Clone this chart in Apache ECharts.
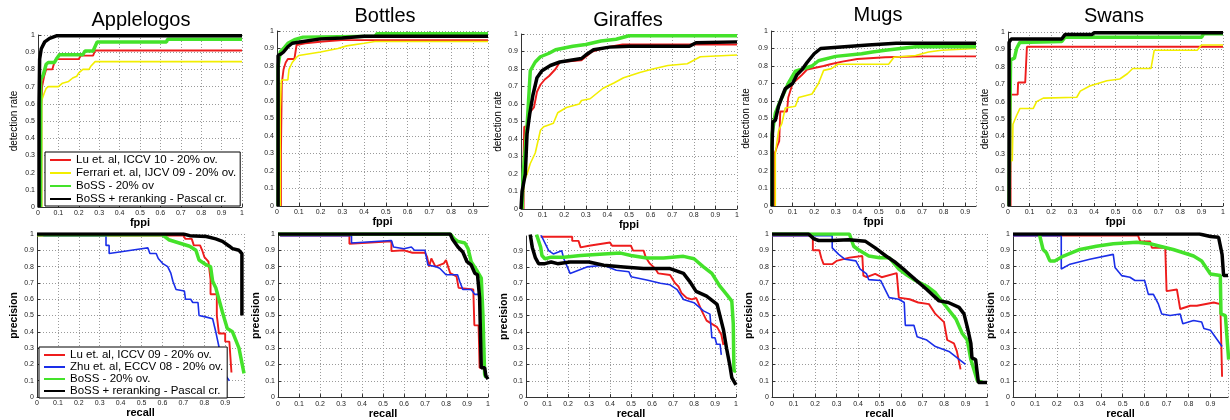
<!DOCTYPE html>
<html>
<head>
<meta charset="utf-8">
<script src="https://cdn.jsdelivr.net/npm/echarts@6/dist/echarts.min.js"></script>
<style>
  html, body { margin: 0; padding: 0; background: #fff; }
  #chart { width: 1230px; height: 420px; }
</style>
</head>
<body>
<div id="chart"></div>
<script>
// Panel titles and legend entries
const categories = ["Applelogos", "Bottles", "Giraffes", "Mugs", "Swans"]
const topNames = ["Lu et. al, ICCV 10 - 20% ov.", "Ferrari et. al, IJCV 09 - 20% ov.", "BoSS - 20% ov", "BoSS + reranking - Pascal cr."]
const bottomNames = ["Lu et. al, ICCV 09 - 20% ov.", "Zhu et. al, ECCV 08 - 20% ov.", "BoSS - 20% ov.", "BoSS + reranking - Pascal cr."]
const tickStep = 0.1

// ---- detection rate vs fppi (top row), points [fppi, detection rate] ----
const appleFppiLu = [[0.016,0],[0.016,0.58],[0.02,0.7],[0.03,0.76],[0.04,0.8],[0.07,0.8],[0.08,0.84],[0.09,0.86],[0.2,0.86],[0.21,0.88],[0.27,0.88],[0.28,0.91],[1,0.91]]
const appleFppiFerrari = [[0.018,0],[0.018,0.62],[0.03,0.66],[0.04,0.69],[0.05,0.7],[0.1,0.7],[0.12,0.72],[0.15,0.73],[0.17,0.75],[0.19,0.76],[0.2,0.78],[0.22,0.8],[0.25,0.8],[0.26,0.82],[0.28,0.845],[1,0.845]]
const appleFppiBoss = [[0.012,0],[0.013,0.74],[0.025,0.765],[0.04,0.83],[0.05,0.84],[0.08,0.84],[0.09,0.86],[0.105,0.885],[0.22,0.885],[0.23,0.907],[0.27,0.907],[0.29,0.96],[0.63,0.96],[0.635,0.975],[1,0.975]]
const appleFppiRerank = [[0.005,0],[0.005,0.6],[0.008,0.86],[0.016,0.92],[0.033,0.96],[0.057,0.98],[0.09,0.995],[1,0.995]]

const bottleFppiLu = [[0.018,0],[0.018,0.3],[0.022,0.7],[0.03,0.78],[0.04,0.82],[0.05,0.84],[0.08,0.84],[0.09,0.92],[0.13,0.93],[0.21,0.94],[0.3,0.948],[0.97,0.948]]
const bottleFppiFerrari = [[0.015,0],[0.015,0.55],[0.02,0.72],[0.05,0.72],[0.055,0.78],[0.07,0.82],[0.09,0.85],[0.1,0.86],[0.15,0.87],[0.2,0.88],[0.28,0.9],[0.32,0.915],[0.4,0.93],[0.45,0.94],[0.97,0.94]]
const bottleFppiBoss = [[0.005,0],[0.005,0.8],[0.015,0.88],[0.03,0.9],[0.05,0.93],[0.08,0.95],[0.12,0.965],[0.45,0.97],[0.46,0.985],[0.97,0.985]]
const bottleFppiRerank = [[0.005,0],[0.005,0.86],[0.02,0.87],[0.03,0.88],[0.05,0.91],[0.07,0.93],[0.12,0.94],[0.2,0.955],[0.3,0.96],[0.4,0.97],[0.97,0.97]]

const giraffeFppiLu = [[0.012,0],[0.012,0.3],[0.015,0.47],[0.025,0.47],[0.04,0.55],[0.06,0.58],[0.074,0.67],[0.09,0.71],[0.11,0.74],[0.13,0.76],[0.16,0.8],[0.18,0.84],[0.28,0.85],[0.33,0.9],[0.4,0.925],[0.47,0.94],[1,0.94]]
const giraffeFppiFerrari = [[0.008,0],[0.012,0.15],[0.028,0.2],[0.043,0.26],[0.066,0.32],[0.09,0.45],[0.105,0.47],[0.15,0.49],[0.17,0.55],[0.21,0.58],[0.27,0.6],[0.28,0.62],[0.32,0.63],[0.38,0.69],[0.43,0.72],[0.475,0.75],[0.55,0.78],[0.61,0.8],[0.68,0.82],[0.77,0.83],[0.8,0.85],[0.83,0.87],[1,0.88]]
const giraffeFppiBoss = [[0.005,0],[0.01,0.2],[0.028,0.47],[0.043,0.79],[0.066,0.84],[0.09,0.87],[0.13,0.89],[0.16,0.91],[0.24,0.93],[0.3,0.94],[0.37,0.96],[0.44,0.97],[0.5,0.99],[1,0.99]]
const giraffeFppiRerank = [[0,0],[0.005,0.1],[0.02,0.2],[0.028,0.43],[0.04,0.54],[0.055,0.65],[0.074,0.75],[0.097,0.79],[0.136,0.82],[0.18,0.84],[0.28,0.86],[0.3,0.88],[0.336,0.91],[0.41,0.925],[0.5,0.93],[0.78,0.93],[0.81,0.95],[1,0.955]]

const mugFppiLu = [[0.017,0],[0.017,0.3],[0.028,0.34],[0.038,0.37],[0.043,0.54],[0.074,0.54],[0.08,0.62],[0.1,0.7],[0.144,0.75],[0.167,0.78],[0.244,0.8],[0.275,0.81],[0.33,0.825],[0.4,0.84],[0.53,0.85],[0.7,0.855],[0.95,0.855]]
const mugFppiFerrari = [[0.02,0],[0.02,0.3],[0.035,0.43],[0.05,0.47],[0.066,0.56],[0.113,0.57],[0.128,0.62],[0.19,0.64],[0.22,0.7],[0.244,0.775],[0.28,0.785],[0.31,0.81],[0.545,0.81],[0.57,0.85],[0.67,0.86],[0.73,0.88],[0.79,0.89],[0.95,0.9]]
const mugFppiBoss = [[0.005,0],[0.005,0.41],[0.02,0.53],[0.043,0.6],[0.08,0.7],[0.113,0.77],[0.19,0.8],[0.22,0.83],[0.3,0.855],[0.42,0.87],[0.47,0.88],[0.53,0.89],[0.67,0.91],[0.95,0.91]]
const mugFppiRerank = [[0.005,0],[0.005,0.34],[0.008,0.48],[0.02,0.49],[0.035,0.57],[0.05,0.62],[0.066,0.67],[0.1,0.7],[0.12,0.75],[0.144,0.78],[0.167,0.82],[0.2,0.87],[0.23,0.9],[0.34,0.91],[0.45,0.92],[0.58,0.93],[0.95,0.93]]

const swanFppiLu = [[0.012,0],[0.012,0.64],[0.045,0.64],[0.047,0.71],[0.08,0.71],[0.088,0.915],[1,0.915]]
const swanFppiFerrari = [[0.01,0],[0.01,0.26],[0.02,0.26],[0.023,0.47],[0.04,0.52],[0.055,0.56],[0.117,0.56],[0.133,0.6],[0.164,0.62],[0.32,0.625],[0.336,0.66],[0.38,0.69],[0.46,0.72],[0.52,0.73],[0.555,0.76],[0.58,0.79],[0.665,0.79],[0.68,0.895],[0.88,0.895],[0.9,0.925],[1,0.925]]
const swanFppiBoss = [[0.005,0],[0.008,0.43],[0.012,0.84],[0.03,0.85],[0.04,0.905],[0.055,0.94],[0.25,0.945],[0.265,0.97],[0.9,0.97],[0.91,0.99],[1,0.99]]
const swanFppiRerank = [[0.005,0],[0.005,0.94],[0.015,0.96],[0.25,0.96],[0.265,0.985],[0.39,0.985],[0.4,0.995],[1,0.995]]

// ---- precision vs recall (bottom row), points [recall, precision] ----
const applePrLu = [[0,0.99],[0.7,0.99],[0.71,0.97],[0.74,0.97],[0.75,0.93],[0.78,0.93],[0.79,0.9],[0.8,0.86],[0.82,0.83],[0.83,0.72],[0.83,0.63],[0.86,0.63],[0.86,0.5],[0.87,0.39],[0.9,0.39],[0.9,0.34],[0.92,0.34],[0.93,0.15]]
const applePrZhu = [[0.03,0.99],[0.33,0.99],[0.33,0.93],[0.345,0.93],[0.345,0.88],[0.5,0.91],[0.53,0.915],[0.54,0.88],[0.57,0.88],[0.58,0.85],[0.6,0.82],[0.625,0.8],[0.64,0.76],[0.65,0.71],[0.665,0.66],[0.705,0.65],[0.71,0.6],[0.735,0.6],[0.745,0.58],[0.77,0.58],[0.775,0.5],[0.81,0.49],[0.84,0.48],[0.855,0.4],[0.87,0.31],[0.895,0.145],[0.92,0.1]]
const applePrBoss = [[0,0.995],[0.6,0.995],[0.63,0.965],[0.68,0.945],[0.73,0.925],[0.76,0.9],[0.775,0.84],[0.81,0.81],[0.83,0.8],[0.84,0.71],[0.855,0.67],[0.87,0.6],[0.887,0.52],[0.91,0.42],[0.935,0.4],[0.966,0.3],[0.99,0.145]]
const applePrRerank = [[0,1],[0.7,1],[0.73,0.99],[0.81,0.985],[0.855,0.97],[0.887,0.955],[0.92,0.925],[0.935,0.91],[0.966,0.9],[0.98,0.88],[0.98,0.5]]

const bottlePrLu = [[0.01,0.99],[0.34,0.99],[0.34,0.94],[0.48,0.95],[0.54,0.955],[0.54,0.895],[0.6,0.9],[0.64,0.885],[0.7,0.885],[0.71,0.86],[0.72,0.8],[0.73,0.85],[0.75,0.8],[0.79,0.82],[0.8,0.84],[0.82,0.76],[0.85,0.74],[0.86,0.67],[0.93,0.66],[0.935,0.44],[0.955,0.44],[0.96,0.18],[0.975,0.18]]
const bottlePrZhu = [[0.01,0.99],[0.35,0.99],[0.35,0.945],[0.54,0.96],[0.55,0.92],[0.6,0.91],[0.635,0.92],[0.65,0.9],[0.7,0.9],[0.714,0.81],[0.75,0.8],[0.77,0.79],[0.8,0.75],[0.855,0.75],[0.865,0.71],[0.88,0.66],[0.92,0.66],[0.937,0.63],[0.96,0.63],[0.965,0.5]]
const bottlePrBoss = [[0,1],[0.82,1],[0.84,0.97],[0.857,0.955],[0.89,0.945],[0.905,0.91],[0.92,0.83],[0.95,0.77],[0.968,0.73],[0.976,0.5],[0.984,0.14],[0.99,0.12]]
const bottlePrRerank = [[0,1],[0.82,1],[0.83,0.97],[0.857,0.92],[0.88,0.89],[0.9,0.83],[0.92,0.81],[0.937,0.76],[0.95,0.75],[0.96,0.61],[0.968,0.18],[0.984,0.18],[0.99,0.13],[1,0.11]]

const giraffePrLu = [[0.07,0.985],[0.22,0.985],[0.22,0.96],[0.25,0.96],[0.26,0.92],[0.3,0.93],[0.4,0.95],[0.41,0.93],[0.5,0.93],[0.51,0.9],[0.56,0.9],[0.57,0.86],[0.59,0.82],[0.615,0.79],[0.63,0.76],[0.686,0.75],[0.71,0.7],[0.726,0.68],[0.74,0.64],[0.765,0.61],[0.79,0.6],[0.81,0.61],[0.82,0.58],[0.837,0.53],[0.86,0.47],[0.885,0.45],[0.91,0.43],[0.93,0.385],[0.94,0.32]]
const giraffePrZhu = [[0.07,1],[0.108,0.9],[0.13,0.88],[0.17,0.9],[0.18,0.85],[0.21,0.76],[0.29,0.8],[0.37,0.81],[0.43,0.78],[0.49,0.77],[0.5,0.74],[0.575,0.72],[0.64,0.7],[0.686,0.69],[0.72,0.66],[0.75,0.6],[0.8,0.58],[0.845,0.53],[0.876,0.51],[0.885,0.365],[0.9,0.365],[0.908,0.325],[0.924,0.325],[0.93,0.26]]
const giraffePrBoss = [[0.05,1],[0.07,0.92],[0.076,0.87],[0.09,0.85],[0.12,0.86],[0.18,0.86],[0.26,0.87],[0.37,0.88],[0.45,0.885],[0.5,0.87],[0.575,0.855],[0.655,0.855],[0.75,0.865],[0.8,0.85],[0.845,0.8],[0.885,0.76],[0.924,0.68],[0.956,0.63],[0.98,0.59],[0.987,0.45],[0.99,0.16],[1,0.16]]
const giraffePrRerank = [[0.02,1],[0.03,0.92],[0.045,0.855],[0.06,0.82],[0.09,0.82],[0.12,0.83],[0.15,0.82],[0.21,0.83],[0.3,0.83],[0.37,0.81],[0.465,0.8],[0.56,0.79],[0.686,0.79],[0.75,0.76],[0.78,0.71],[0.81,0.65],[0.86,0.62],[0.91,0.57],[0.94,0.415],[0.955,0.3],[0.97,0.2],[0.98,0.12],[1,0.075]]

const mugPrLu = [[0,0.99],[0.19,0.99],[0.19,0.9],[0.22,0.9],[0.23,0.85],[0.24,0.815],[0.28,0.815],[0.3,0.835],[0.36,0.855],[0.42,0.865],[0.425,0.745],[0.44,0.735],[0.48,0.755],[0.51,0.735],[0.58,0.76],[0.59,0.61],[0.64,0.6],[0.68,0.58],[0.73,0.57],[0.76,0.51],[0.8,0.46],[0.815,0.35],[0.846,0.33],[0.86,0.28],[0.877,0.17]]
const mugPrZhu = [[0,0.99],[0.28,0.99],[0.28,0.915],[0.31,0.875],[0.34,0.845],[0.39,0.835],[0.41,0.785],[0.44,0.755],[0.45,0.72],[0.505,0.715],[0.545,0.61],[0.59,0.6],[0.615,0.58],[0.62,0.44],[0.66,0.44],[0.675,0.37],[0.72,0.35],[0.76,0.31],[0.823,0.28],[0.9,0.2]]
const mugPrBoss = [[0,1],[0.36,1],[0.38,0.925],[0.4,0.905],[0.45,0.865],[0.5,0.855],[0.545,0.855],[0.59,0.785],[0.62,0.755],[0.667,0.715],[0.72,0.68],[0.76,0.64],[0.807,0.56],[0.855,0.48],[0.885,0.39],[0.908,0.35],[0.925,0.23],[0.955,0.1],[0.98,0.09]]
const mugPrRerank = [[0,1],[0.17,1],[0.195,0.97],[0.217,0.96],[0.28,0.96],[0.357,0.965],[0.435,0.955],[0.48,0.915],[0.53,0.865],[0.575,0.825],[0.62,0.775],[0.667,0.72],[0.72,0.66],[0.777,0.59],[0.82,0.58],[0.87,0.55],[0.893,0.51],[0.91,0.42],[0.925,0.33],[0.93,0.24],[0.947,0.23],[0.96,0.09],[1,0.09]]

const swanPrLu = [[0,0.99],[0.57,0.99],[0.58,0.955],[0.625,0.955],[0.633,0.915],[0.694,0.915],[0.7,0.65],[0.747,0.66],[0.762,0.54],[0.808,0.56],[0.838,0.56],[0.915,0.58],[0.945,0.57],[0.953,0.125]]
const swanPrZhu = [[0,0.99],[0.22,0.99],[0.22,0.785],[0.26,0.815],[0.35,0.845],[0.457,0.875],[0.465,0.795],[0.495,0.745],[0.533,0.735],[0.556,0.715],[0.6,0.715],[0.617,0.63],[0.64,0.63],[0.663,0.57],[0.678,0.51],[0.716,0.5],[0.762,0.51],[0.774,0.45],[0.823,0.47],[0.86,0.46],[0.87,0.42],[0.9,0.41],[0.953,0.31]]
const swanPrBoss = [[0.12,1],[0.137,0.905],[0.152,0.885],[0.168,0.835],[0.19,0.835],[0.23,0.865],[0.305,0.905],[0.38,0.925],[0.457,0.94],[0.564,0.95],[0.625,0.94],[0.67,0.925],[0.73,0.905],[0.777,0.885],[0.823,0.865],[0.86,0.835],[0.9,0.755],[0.945,0.745],[0.948,0.51],[0.968,0.5],[0.983,0.23]]
const swanPrRerank = [[0,1],[0.85,1],[0.9,0.985],[0.937,0.98],[0.953,0.875],[0.96,0.745],[0.98,0.745]]

// colours / widths per row (legend order)
const topColors = ["#ee1c1c", "#f2ee00", "#44e22a", "#000000"]
const bottomColors = ["#ee1c1c", "#1a2ee8", "#44e22a", "#000000"]
const lineWidths = [1.9, 1.6, 3.5, 3.5]

// layout of each subplot: grid box [left, top, width, height]
const panels = [
  { box: [38, 35, 204, 172], xMax: 1, yMax: 1, xName: "fppi", yName: "detection rate", yGap: 19, lines: [appleFppiLu, appleFppiFerrari, appleFppiBoss, appleFppiRerank], top: true },
  { box: [277, 31, 211, 175], xMax: 0.97, yMax: 1, xName: "fppi", yName: "", yGap: 18, lines: [bottleFppiLu, bottleFppiFerrari, bottleFppiBoss, bottleFppiRerank], top: true },
  { box: [521, 34, 216, 175], xMax: 1, yMax: 1, xName: "fppi", yName: "detection rate", yGap: 18, lines: [giraffeFppiLu, giraffeFppiFerrari, giraffeFppiBoss, giraffeFppiRerank], top: true },
  { box: [771, 31, 205, 175], xMax: 0.95, yMax: 1, xName: "fppi", yName: "detection rate", yGap: 20, lines: [mugFppiLu, mugFppiFerrari, mugFppiBoss, mugFppiRerank], top: true },
  { box: [1008, 32, 215, 174], xMax: 1, yMax: 1, xName: "fppi", yName: "detection rate", yGap: 18, lines: [swanFppiLu, swanFppiFerrari, swanFppiBoss, swanFppiRerank], top: true },
  { box: [37, 234, 207, 163], xMax: 0.99, yMax: 1, xName: "recall", yName: "precision", yGap: 17, lines: [applePrLu, applePrZhu, applePrBoss, applePrRerank], top: false },
  { box: [278, 234, 210, 164], xMax: 1, yMax: 1, xName: "recall", yName: "precision", yGap: 15, lines: [bottlePrLu, bottlePrZhu, bottlePrBoss, bottlePrRerank], top: false },
  { box: [526, 236, 210, 162], xMax: 1, yMax: 0.99, xName: "recall", yName: "precision", yGap: 16, lines: [giraffePrLu, giraffePrZhu, giraffePrBoss, giraffePrRerank], top: false },
  { box: [772, 234, 215, 165], xMax: 1, yMax: 1, xName: "recall", yName: "precision", yGap: 17, lines: [mugPrLu, mugPrZhu, mugPrBoss, mugPrRerank], top: false },
  { box: [1013, 234, 215, 165], xMax: 0.98, yMax: 1, xName: "recall", yName: "precision", yGap: 15, lines: [swanPrLu, swanPrZhu, swanPrBoss, swanPrRerank], top: false },
]

// title centres
const titlePos = [[141, 20], [385, 16], [628, 20], [878, 15], [1114, 16]]

const chart = echarts.init(document.getElementById("chart"), null, { renderer: "canvas" })

const axisLine = { show: true, onZero: false, lineStyle: { color: "#333", width: 1 } }
const axisTick = { show: true, inside: true, length: 3, lineStyle: { color: "#333" } }
const splitLine = { show: true, lineStyle: { color: "#9a9a9a", width: 1, type: [1, 2] } }

// shared legend look: plain line sample, no marker
const legendBase = {
  orient: "vertical",
  itemWidth: 21,
  itemHeight: 10,
  padding: [2, 4, 1, 4],
  borderColor: "#000",
  borderWidth: 1,
  backgroundColor: "#fff",
  selectedMode: false,
  itemStyle: { color: "rgba(0,0,0,0)", borderColor: "rgba(0,0,0,0)", borderWidth: 0 },
  z: 10,
}

const option = {
  animation: false,
  textStyle: { fontFamily: "Liberation Sans, Arial, sans-serif" },
  graphic: categories.map((name, i) => ({
    type: "text",
    x: titlePos[i][0],
    y: titlePos[i][1],
    style: {
      text: name,
      font: "20px 'Liberation Sans', Arial, sans-serif",
      fill: "#000",
      textAlign: "center",
      textVerticalAlign: "middle",
    },
  })),
  grid: panels.map((p) => ({ left: p.box[0], top: p.box[1], width: p.box[2], height: p.box[3], containLabel: false })),
  xAxis: panels.map((p, i) => ({
    type: "value",
    gridIndex: i,
    min: 0,
    max: p.xMax,
    interval: tickStep,
    name: p.xName,
    nameLocation: "middle",
    nameGap: p.top ? 10 : 8,
    nameTextStyle: { fontSize: 11, fontWeight: "bold", color: "#000" },
    axisLine,
    axisTick,
    axisLabel: { fontSize: 7, color: "#222", margin: 3, showMaxLabel: p.xMax === 1 },
    splitLine,
  })),
  yAxis: panels.map((p, i) => ({
    type: "value",
    gridIndex: i,
    min: 0,
    max: p.yMax,
    interval: tickStep,
    name: p.yName,
    nameLocation: "middle",
    nameGap: p.yGap,
    nameTextStyle: { fontSize: p.top ? 10 : 10.5, fontWeight: p.top ? "normal" : "bold", color: "#000" },
    axisLine,
    axisTick,
    axisLabel: { fontSize: 7, color: "#222", margin: 3, showMaxLabel: p.yMax === 1 },
    splitLine,
  })),
  legend: [
    Object.assign({}, legendBase, {
      data: topNames,
      left: 45,
      top: 152,
      itemGap: 1,
      textStyle: { fontSize: 11.5, lineHeight: 12, color: "#000" },
    }),
    Object.assign({}, legendBase, {
      data: bottomNames,
      left: 39,
      top: 347,
      itemGap: 0,
      textStyle: { fontSize: 11.5, lineHeight: 11, color: "#000" },
    }),
  ],
  series: panels.flatMap((p, i) =>
    p.lines.map((data, k) => {
      const color = (p.top ? topColors : bottomColors)[k]
      return {
        type: "line",
        name: (p.top ? topNames : bottomNames)[k],
        xAxisIndex: i,
        yAxisIndex: i,
        data,
        symbol: "none",
        clip: true,
        silent: true,
        z: 2 + k,
        lineStyle: { color, width: lineWidths[k] },
        itemStyle: { color },
      }
    })
  ),
}

chart.setOption(option)
</script>
</body>
</html>
